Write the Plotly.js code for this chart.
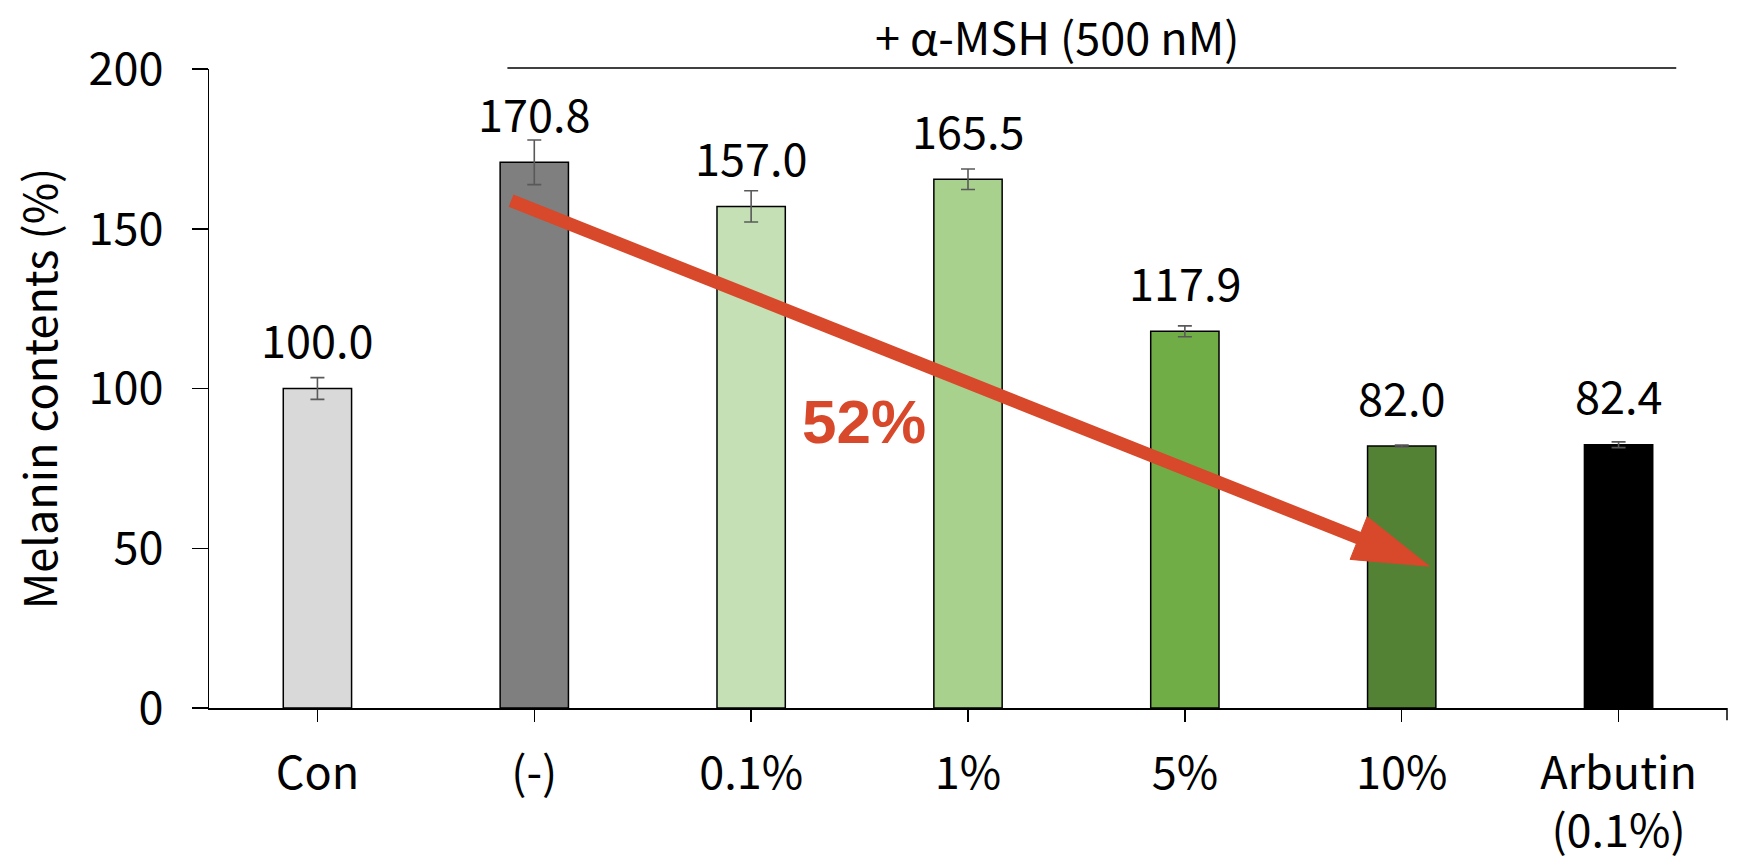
<!DOCTYPE html>
<html>
<head>
<meta charset="utf-8">
<script src="https://cdn.plot.ly/plotly-3.0.1.min.js"></script>
<style>html,body{margin:0;padding:0;background:#fff;}#chart{width:1748px;height:866px;}</style>
</head>
<body>
<div id="chart"></div>
<script>
// ---- data ----
var categories = ["Con", "(-)", "0.1%", "1%", "5%", "10%", "Arbutin<br>(0.1%)"];
var melanin = [100.0, 170.8, 157.0, 165.5, 117.9, 82.0, 82.4];
var errors = [3.4, 7.0, 4.9, 3.2, 1.7, 0.3, 0.9];
var valueLabels = ["100.0", "170.8", "157.0", "165.5", "117.9", "82.0", "82.4"];
var barColors = ["#D9D9D9", "#7F7F7F", "#C5E0B4", "#A9D18E", "#70AD47", "#548235", "#000000"];
var groupLabel = "+ α-MSH (500 nM)";
var groupStart = 0.876, groupEnd = 6.266, groupLabelX = 3.41;
var arrowStart = [0.893, 158.8];
var arrowEnd = [5.127, 44.4];
var reductionLabel = "52%";
var reductionPos = [2.522, 89.8];

// ---- layout geometry ----
var W = 1748, H = 866;
var mL = 209, mR = 21, mT = 69, mB = 158;
var pw = W - mL - mR, ph = H - mT - mB;
var yMax = 200;
var nCat = categories.length;
function toPx(x, y) { return [mL + (x + 0.5) / nCat * pw, mT + ph - y / yMax * ph]; }
function toData(px, py) { return [(px - mL) / pw * nCat - 0.5, (mT + ph - py) / ph * yMax]; }

var font = "Noto Sans CJK KR, Noto Sans, sans-serif";
var fs = 45;
var arrowColor = "#D8482A";

var trace = {
  type: "bar",
  x: categories,
  y: melanin,
  marker: { color: barColors, line: { color: "#000000", width: 1.5 } },
  error_y: { type: "data", array: errors, visible: true, color: "#595959", thickness: 1.6, width: 7 },
  hoverinfo: "none"
};

var annotations = [];
for (var i = 0; i < categories.length; i++) {
  annotations.push({
    x: categories[i], y: melanin[i], xref: "x", yref: "y",
    text: valueLabels[i], showarrow: false, yanchor: "middle", yshift: 50,
    font: { family: font, size: fs, color: "#000" }
  });
}
annotations.push({
  x: groupLabelX, y: 1.052, xref: "x", yref: "paper",
  text: groupLabel, showarrow: false, yanchor: "middle",
  font: { family: font, size: fs, color: "#000" }
});
annotations.push({
  x: reductionPos[0], y: reductionPos[1], xref: "x", yref: "y",
  text: "<b>" + reductionLabel + "</b>", showarrow: false,
  font: { family: "Liberation Sans, Arial, sans-serif", size: 62, color: arrowColor }
});

// arrow geometry (pixel space)
var p0 = toPx(arrowStart[0], arrowStart[1]);
var p1 = toPx(arrowEnd[0], arrowEnd[1]);
var dx = p1[0] - p0[0], dy = p1[1] - p0[1];
var len = Math.sqrt(dx * dx + dy * dy);
var ux = dx / len, uy = dy / len, nx = -uy, ny = ux;
var headLen = 76, headHalf = 23;
var base = [p1[0] - ux * headLen, p1[1] - uy * headLen];
var c1 = toData(base[0] + nx * headHalf, base[1] + ny * headHalf);
var c2 = toData(base[0] - nx * headHalf, base[1] - ny * headHalf);
var bD = toData(base[0] + ux * 2, base[1] + uy * 2);

var shapes = [
  { type: "line", xref: "x", yref: "paper", x0: groupStart, x1: groupEnd, y0: 1.0015, y1: 1.0015,
    line: { color: "#000", width: 1.5 } },
  { type: "line", xref: "paper", yref: "paper", x0: 1, x1: 1, y0: 0, y1: -0.019,
    line: { color: "#000", width: 1.5 } },
  { type: "line", xref: "x", yref: "y", x0: arrowStart[0], y0: arrowStart[1], x1: bD[0], y1: bD[1],
    line: { color: arrowColor, width: 13 } },
  { type: "path", xref: "x", yref: "y",
    path: "M" + c1[0] + "," + c1[1] + " L" + arrowEnd[0] + "," + arrowEnd[1] + " L" + c2[0] + "," + c2[1] + " Z",
    fillcolor: arrowColor, line: { color: arrowColor, width: 1 } }
];

var layout = {
  width: W, height: H,
  margin: { l: mL, r: mR, t: mT, b: mB },
  paper_bgcolor: "#fff", plot_bgcolor: "#fff",
  showlegend: false,
  bargap: 0.685,
  font: { family: font, size: fs, color: "#000" },
  xaxis: {
    type: "category", range: [-0.5, 6.5],
    showline: true, linecolor: "#000", linewidth: 1.5,
    ticks: "outside", ticklen: 12, tickwidth: 1.5, tickcolor: "#000",
    showgrid: false, zeroline: false, ticklabelstandoff: 13,
    tickfont: { family: font, size: fs, color: "#000" }
  },
  yaxis: {
    range: [0, yMax], tickvals: [0, 50, 100, 150, 200],
    showline: true, linecolor: "#000", linewidth: 1.5,
    ticks: "outside", ticklen: 16, tickwidth: 1.5, tickcolor: "#000",
    showgrid: false, zeroline: false, ticklabelstandoff: 19,
    tickfont: { family: font, size: fs, color: "#000" },
    title: { text: "Melanin contents (%)", standoff: 17, font: { family: font, size: fs, color: "#000" } }
  },
  annotations: annotations,
  shapes: shapes
};

Plotly.newPlot("chart", [trace], layout, { staticPlot: true, displayModeBar: false });
</script>
</body>
</html>
